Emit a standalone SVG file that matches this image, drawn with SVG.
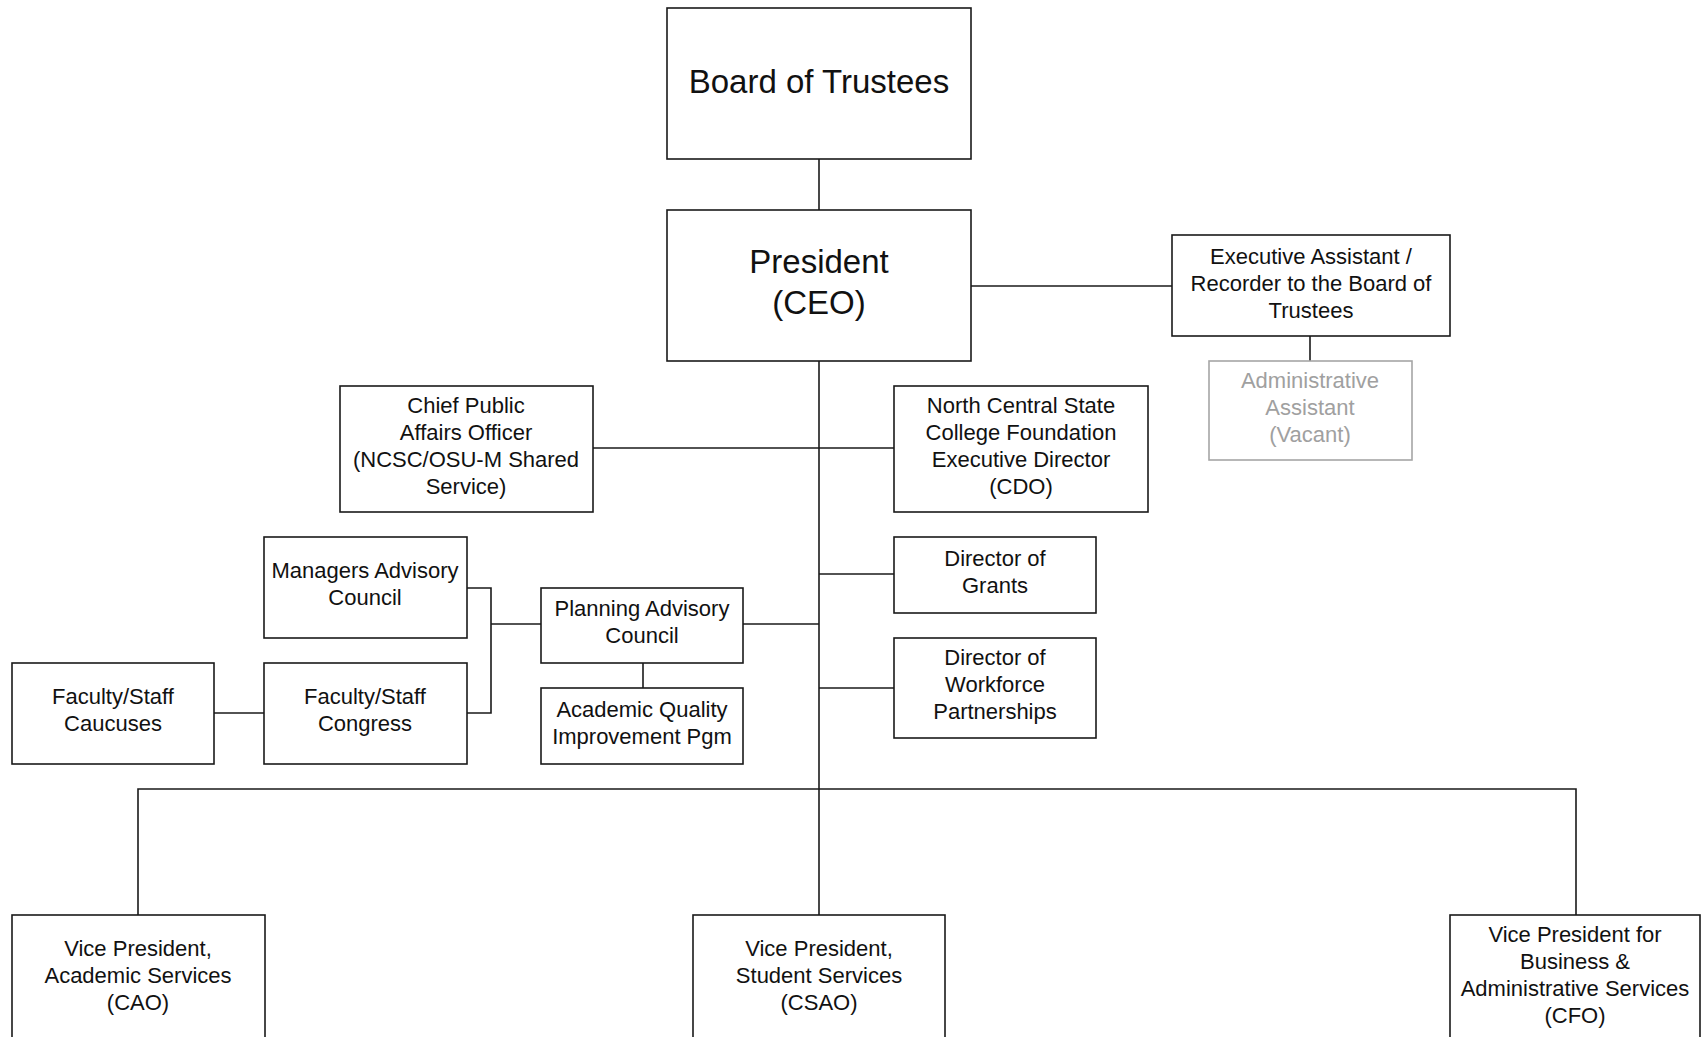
<svg xmlns="http://www.w3.org/2000/svg" width="1702" height="1037" viewBox="0 0 1702 1037">
  <style>
    .box { fill: #ffffff; stroke: #1a1a1a; stroke-width: 1.6; }
    .box.vacant { stroke: #a6a6a6; }
    .lbl { font-family: "Liberation Sans", Arial, sans-serif; font-size: 22px; fill: #111111; text-anchor: middle; }
    .lbl.big { font-size: 33px; }
    .lbl.vacant { fill: #a0a0a0; }
    .wire { fill: none; stroke: #1a1a1a; stroke-width: 1.6; }
  </style>
  <rect width="1702" height="1037" fill="#ffffff"/>

  <g id="connectors">
    <path class="wire" d="M819 159 V210"/>
    <path class="wire" d="M971 286 H1172"/>
    <path class="wire" d="M1310 336 V361"/>
    <path class="wire" d="M819 361 V915"/>
    <path class="wire" d="M593 448 H894"/>
    <path class="wire" d="M819 574 H894"/>
    <path class="wire" d="M819 688 H894"/>
    <path class="wire" d="M743 624 H819"/>
    <path class="wire" d="M643 663 V688"/>
    <path class="wire" d="M467 588 H491 V713 H467"/>
    <path class="wire" d="M491 624 H541"/>
    <path class="wire" d="M214 713 H264"/>
    <path class="wire" d="M138 915 V789 H1576 V915"/>
  </g>

  <g id="board">
    <rect class="box" x="667" y="8" width="304" height="151"/>
    <text class="lbl big" x="819" y="93">Board of Trustees</text>
  </g>

  <g id="president">
    <rect class="box" x="667" y="210" width="304" height="151"/>
    <text class="lbl big" x="819" y="273">President</text>
    <text class="lbl big" x="819" y="314">(CEO)</text>
  </g>

  <g id="exec-assistant">
    <rect class="box" x="1172" y="235" width="278" height="101"/>
    <text class="lbl" x="1311" y="264">Executive Assistant /</text>
    <text class="lbl" x="1311" y="291">Recorder to the Board of</text>
    <text class="lbl" x="1311" y="318">Trustees</text>
  </g>

  <g id="admin-assistant">
    <rect class="box vacant" x="1209" y="361" width="203" height="99"/>
    <text class="lbl vacant" x="1310" y="388">Administrative</text>
    <text class="lbl vacant" x="1310" y="415">Assistant</text>
    <text class="lbl vacant" x="1310" y="442">(Vacant)</text>
  </g>

  <g id="public-affairs">
    <rect class="box" x="340" y="386" width="253" height="126"/>
    <text class="lbl" x="466" y="413">Chief Public</text>
    <text class="lbl" x="466" y="440">Affairs Officer</text>
    <text class="lbl" x="466" y="467">(NCSC/OSU-M Shared</text>
    <text class="lbl" x="466" y="494">Service)</text>
  </g>

  <g id="foundation">
    <rect class="box" x="894" y="386" width="254" height="126"/>
    <text class="lbl" x="1021" y="413">North Central State</text>
    <text class="lbl" x="1021" y="440">College Foundation</text>
    <text class="lbl" x="1021" y="467">Executive Director</text>
    <text class="lbl" x="1021" y="494">(CDO)</text>
  </g>

  <g id="grants">
    <rect class="box" x="894" y="537" width="202" height="76"/>
    <text class="lbl" x="995" y="566">Director of</text>
    <text class="lbl" x="995" y="593">Grants</text>
  </g>

  <g id="workforce">
    <rect class="box" x="894" y="638" width="202" height="100"/>
    <text class="lbl" x="995" y="665">Director of</text>
    <text class="lbl" x="995" y="692">Workforce</text>
    <text class="lbl" x="995" y="719">Partnerships</text>
  </g>

  <g id="managers-council">
    <rect class="box" x="264" y="537" width="203" height="101"/>
    <text class="lbl" x="365" y="578">Managers Advisory</text>
    <text class="lbl" x="365" y="605">Council</text>
  </g>

  <g id="planning-council">
    <rect class="box" x="541" y="588" width="202" height="75"/>
    <text class="lbl" x="642" y="616">Planning Advisory</text>
    <text class="lbl" x="642" y="643">Council</text>
  </g>

  <g id="aqip">
    <rect class="box" x="541" y="688" width="202" height="76"/>
    <text class="lbl" x="642" y="717">Academic Quality</text>
    <text class="lbl" x="642" y="744">Improvement Pgm</text>
  </g>

  <g id="caucuses">
    <rect class="box" x="12" y="663" width="202" height="101"/>
    <text class="lbl" x="113" y="704">Faculty/Staff</text>
    <text class="lbl" x="113" y="731">Caucuses</text>
  </g>

  <g id="congress">
    <rect class="box" x="264" y="663" width="203" height="101"/>
    <text class="lbl" x="365" y="704">Faculty/Staff</text>
    <text class="lbl" x="365" y="731">Congress</text>
  </g>

  <g id="vp-academic">
    <rect class="box" x="12" y="915" width="253" height="150"/>
    <text class="lbl" x="138" y="956">Vice President,</text>
    <text class="lbl" x="138" y="983">Academic Services</text>
    <text class="lbl" x="138" y="1010">(CAO)</text>
  </g>

  <g id="vp-student">
    <rect class="box" x="693" y="915" width="252" height="150"/>
    <text class="lbl" x="819" y="956">Vice President,</text>
    <text class="lbl" x="819" y="983">Student Services</text>
    <text class="lbl" x="819" y="1010">(CSAO)</text>
  </g>

  <g id="vp-business">
    <rect class="box" x="1450" y="915" width="250" height="150"/>
    <text class="lbl" x="1575" y="942">Vice President for</text>
    <text class="lbl" x="1575" y="969">Business &amp;</text>
    <text class="lbl" x="1575" y="996">Administrative Services</text>
    <text class="lbl" x="1575" y="1023">(CFO)</text>
  </g>
</svg>
